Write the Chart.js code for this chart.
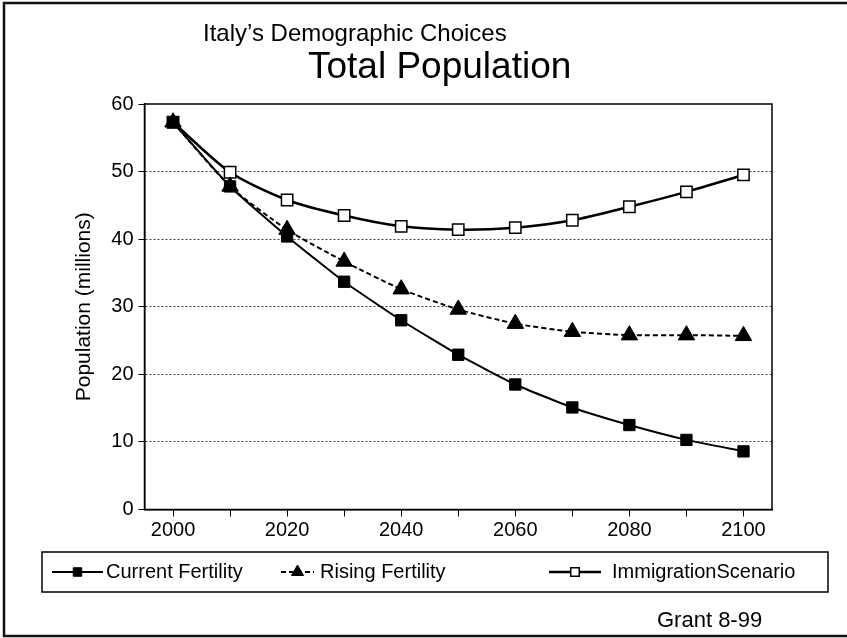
<!DOCTYPE html>
<html>
<head>
<meta charset="utf-8">
<title>Italy's Demographic Choices – Total Population</title>
<script src="https://cdn.jsdelivr.net/npm/chart.js@4/dist/chart.umd.min.js"></script>
<style>
  html, body { margin: 0; padding: 0; background: #fff; }
  #wrap { width: 847px; height: 638px; position: relative; }
</style>
</head>
<body>
<div id="wrap"><canvas id="chart" width="847" height="638"></canvas></div>
<script>
// Population projections for Italy, in millions, by decade
const years = ['2000', '2010', '2020', '2030', '2040', '2050', '2060', '2070', '2080', '2090', '2100'];
const labeledYears = ['2000', '2020', '2040', '2060', '2080', '2100'];
const yTicks = [0, 10, 20, 30, 40, 50, 60];

const currentFertility    = [57.3, 47.8, 40.4, 33.7, 28.0, 22.9, 18.5, 15.1, 12.5, 10.3, 8.6];
const risingFertility     = [57.3, 47.8, 41.4, 36.7, 32.6, 29.6, 27.5, 26.3, 25.8, 25.8, 25.7];
const immigrationScenario = [57.3, 49.9, 45.8, 43.5, 41.9, 41.4, 41.7, 42.8, 44.8, 47.0, 49.5];

const seriesNames = ['Current Fertility', 'Rising Fertility', 'ImmigrationScenario'];
const subtitleText = "Italy\u2019s Demographic Choices";
const titleText = 'Total Population';
const yAxisTitle = 'Population (millions)';
const sourceNote = 'Grant 8-99';

const FONT = "'Liberation Sans', Arial, Helvetica, sans-serif";

// Headings, frame, plot box, legend and source note
const decorations = {
  id: 'decorations',
  beforeDatasetsDraw(chart) {
    const { ctx, chartArea: a } = chart;
    ctx.save();
    ctx.strokeStyle = '#000';
    ctx.lineWidth = 1.5;
    ctx.strokeRect(a.left, a.top, a.right - a.left, a.bottom - a.top);
    ctx.restore();
  },
  afterDraw(chart) {
    const { ctx } = chart;
    ctx.save();
    // outer frame (its right edge runs past the canvas)
    ctx.strokeStyle = '#111';
    ctx.lineWidth = 2.5;
    ctx.strokeRect(4, 3, 860, 633);

    // headings
    ctx.fillStyle = '#000';
    ctx.textAlign = 'left';
    ctx.textBaseline = 'alphabetic';
    ctx.font = '24px ' + FONT;
    ctx.fillText(subtitleText, 203, 41);
    ctx.font = '37px ' + FONT;
    ctx.fillText(titleText, 308, 78);

    // legend box
    ctx.lineWidth = 1.5;
    ctx.strokeStyle = '#000';
    ctx.strokeRect(42, 552, 786, 40);
    const slots = [
      { x: 52, w: 51, tx: 106 },
      { x: 281, w: 33, tx: 320 },
      { x: 549, w: 52, tx: 612 }
    ];
    const ly = 572;
    chart.data.datasets.forEach((ds, i) => {
      const s = slots[i];
      ctx.save();
      ctx.strokeStyle = '#000';
      ctx.lineWidth = ds.borderWidth;
      ctx.setLineDash(ds.borderDash || []);
      ctx.beginPath();
      ctx.moveTo(s.x, ly);
      ctx.lineTo(s.x + s.w, ly);
      ctx.stroke();
      ctx.setLineDash([]);
      ctx.fillStyle = ds.pointBackgroundColor;
      ctx.strokeStyle = ds.pointBorderColor;
      ctx.lineWidth = ds.pointBorderWidth;
      Chart.helpers.drawPoint(ctx, {
        pointStyle: ds.pointStyle,
        radius: ds.pointStyle === 'triangle' ? 7 : 6,
        rotation: 0,
        borderWidth: ds.pointBorderWidth
      }, s.x + s.w / 2, ly);
      ctx.restore();
      ctx.fillStyle = '#000';
      ctx.font = '20px ' + FONT;
      ctx.textBaseline = 'middle';
      ctx.fillText(ds.label, s.tx, ly);
    });

    // source note
    ctx.font = '22px ' + FONT;
    ctx.textBaseline = 'alphabetic';
    ctx.fillText(sourceNote, 657, 627);
    ctx.restore();
  }
};

new Chart(document.getElementById('chart'), {
  type: 'line',
  data: {
    labels: years,
    datasets: [
      {
        label: seriesNames[0],
        data: currentFertility,
        borderColor: '#000',
        borderWidth: 2,
        tension: 0.15,
        pointStyle: 'rect',
        pointRadius: 8,
        pointBackgroundColor: '#000',
        pointBorderColor: '#000',
        pointBorderWidth: 1
      },
      {
        label: seriesNames[1],
        data: risingFertility,
        borderColor: '#000',
        borderWidth: 2,
        borderDash: [5, 3],
        tension: 0.2,
        pointStyle: 'triangle',
        pointRadius: 9.5,
        pointBackgroundColor: '#000',
        pointBorderColor: '#000',
        pointBorderWidth: 1
      },
      {
        label: seriesNames[2],
        data: immigrationScenario,
        borderColor: '#000',
        borderWidth: 2.5,
        tension: 0.25,
        pointStyle: 'rect',
        pointRadius: 8,
        pointBackgroundColor: '#fff',
        pointBorderColor: '#000',
        pointBorderWidth: 1.5
      }
    ]
  },
  options: {
    responsive: false,
    animation: false,
    events: [],
    layout: { padding: { left: 0, right: 75, top: 104, bottom: 100 } },
    plugins: {
      legend: { display: false },
      title: { display: false },
      tooltip: { enabled: false }
    },
    scales: {
      x: {
        type: 'category',
        offset: true,
        grid: {
          drawOnChartArea: false,
          drawTicks: true,
          tickLength: 7,
          tickColor: '#000',
          tickWidth: 1
        },
        border: { display: true, color: '#000', width: 1.5 },
        ticks: {
          autoSkip: false,
          maxRotation: 0,
          padding: 2,
          color: '#000',
          font: { family: FONT, size: 20 },
          callback(value, index) {
            const lbl = years[index];
            return labeledYears.includes(lbl) ? lbl : '';
          }
        },
        afterFit(scale) { scale.height = 28.5; }
      },
      y: {
        min: 0,
        max: 60,
        afterBuildTicks(scale) { scale.ticks = yTicks.map(v => ({ value: v })); },
        grid: {
          color: ctx => (ctx.tick && (ctx.tick.value === 0 || ctx.tick.value === 60)) ? 'rgba(0,0,0,0)' : '#444',
          lineWidth: 1,
          drawTicks: true,
          tickLength: 6,
          tickColor: '#000',
          tickWidth: 1
        },
        border: { display: true, color: '#000', width: 1.5, dash: [2, 2] },
        ticks: {
          padding: 5,
          color: '#000',
          font: { family: FONT, size: 20 }
        },
        title: {
          display: true,
          text: yAxisTitle,
          color: '#000',
          font: { family: FONT, size: 21 },
          padding: { top: 72, bottom: 0 }
        },
        afterFit(scale) { scale.width = 144.5; }
      }
    }
  },
  plugins: [decorations]
});
</script>
</body>
</html>
